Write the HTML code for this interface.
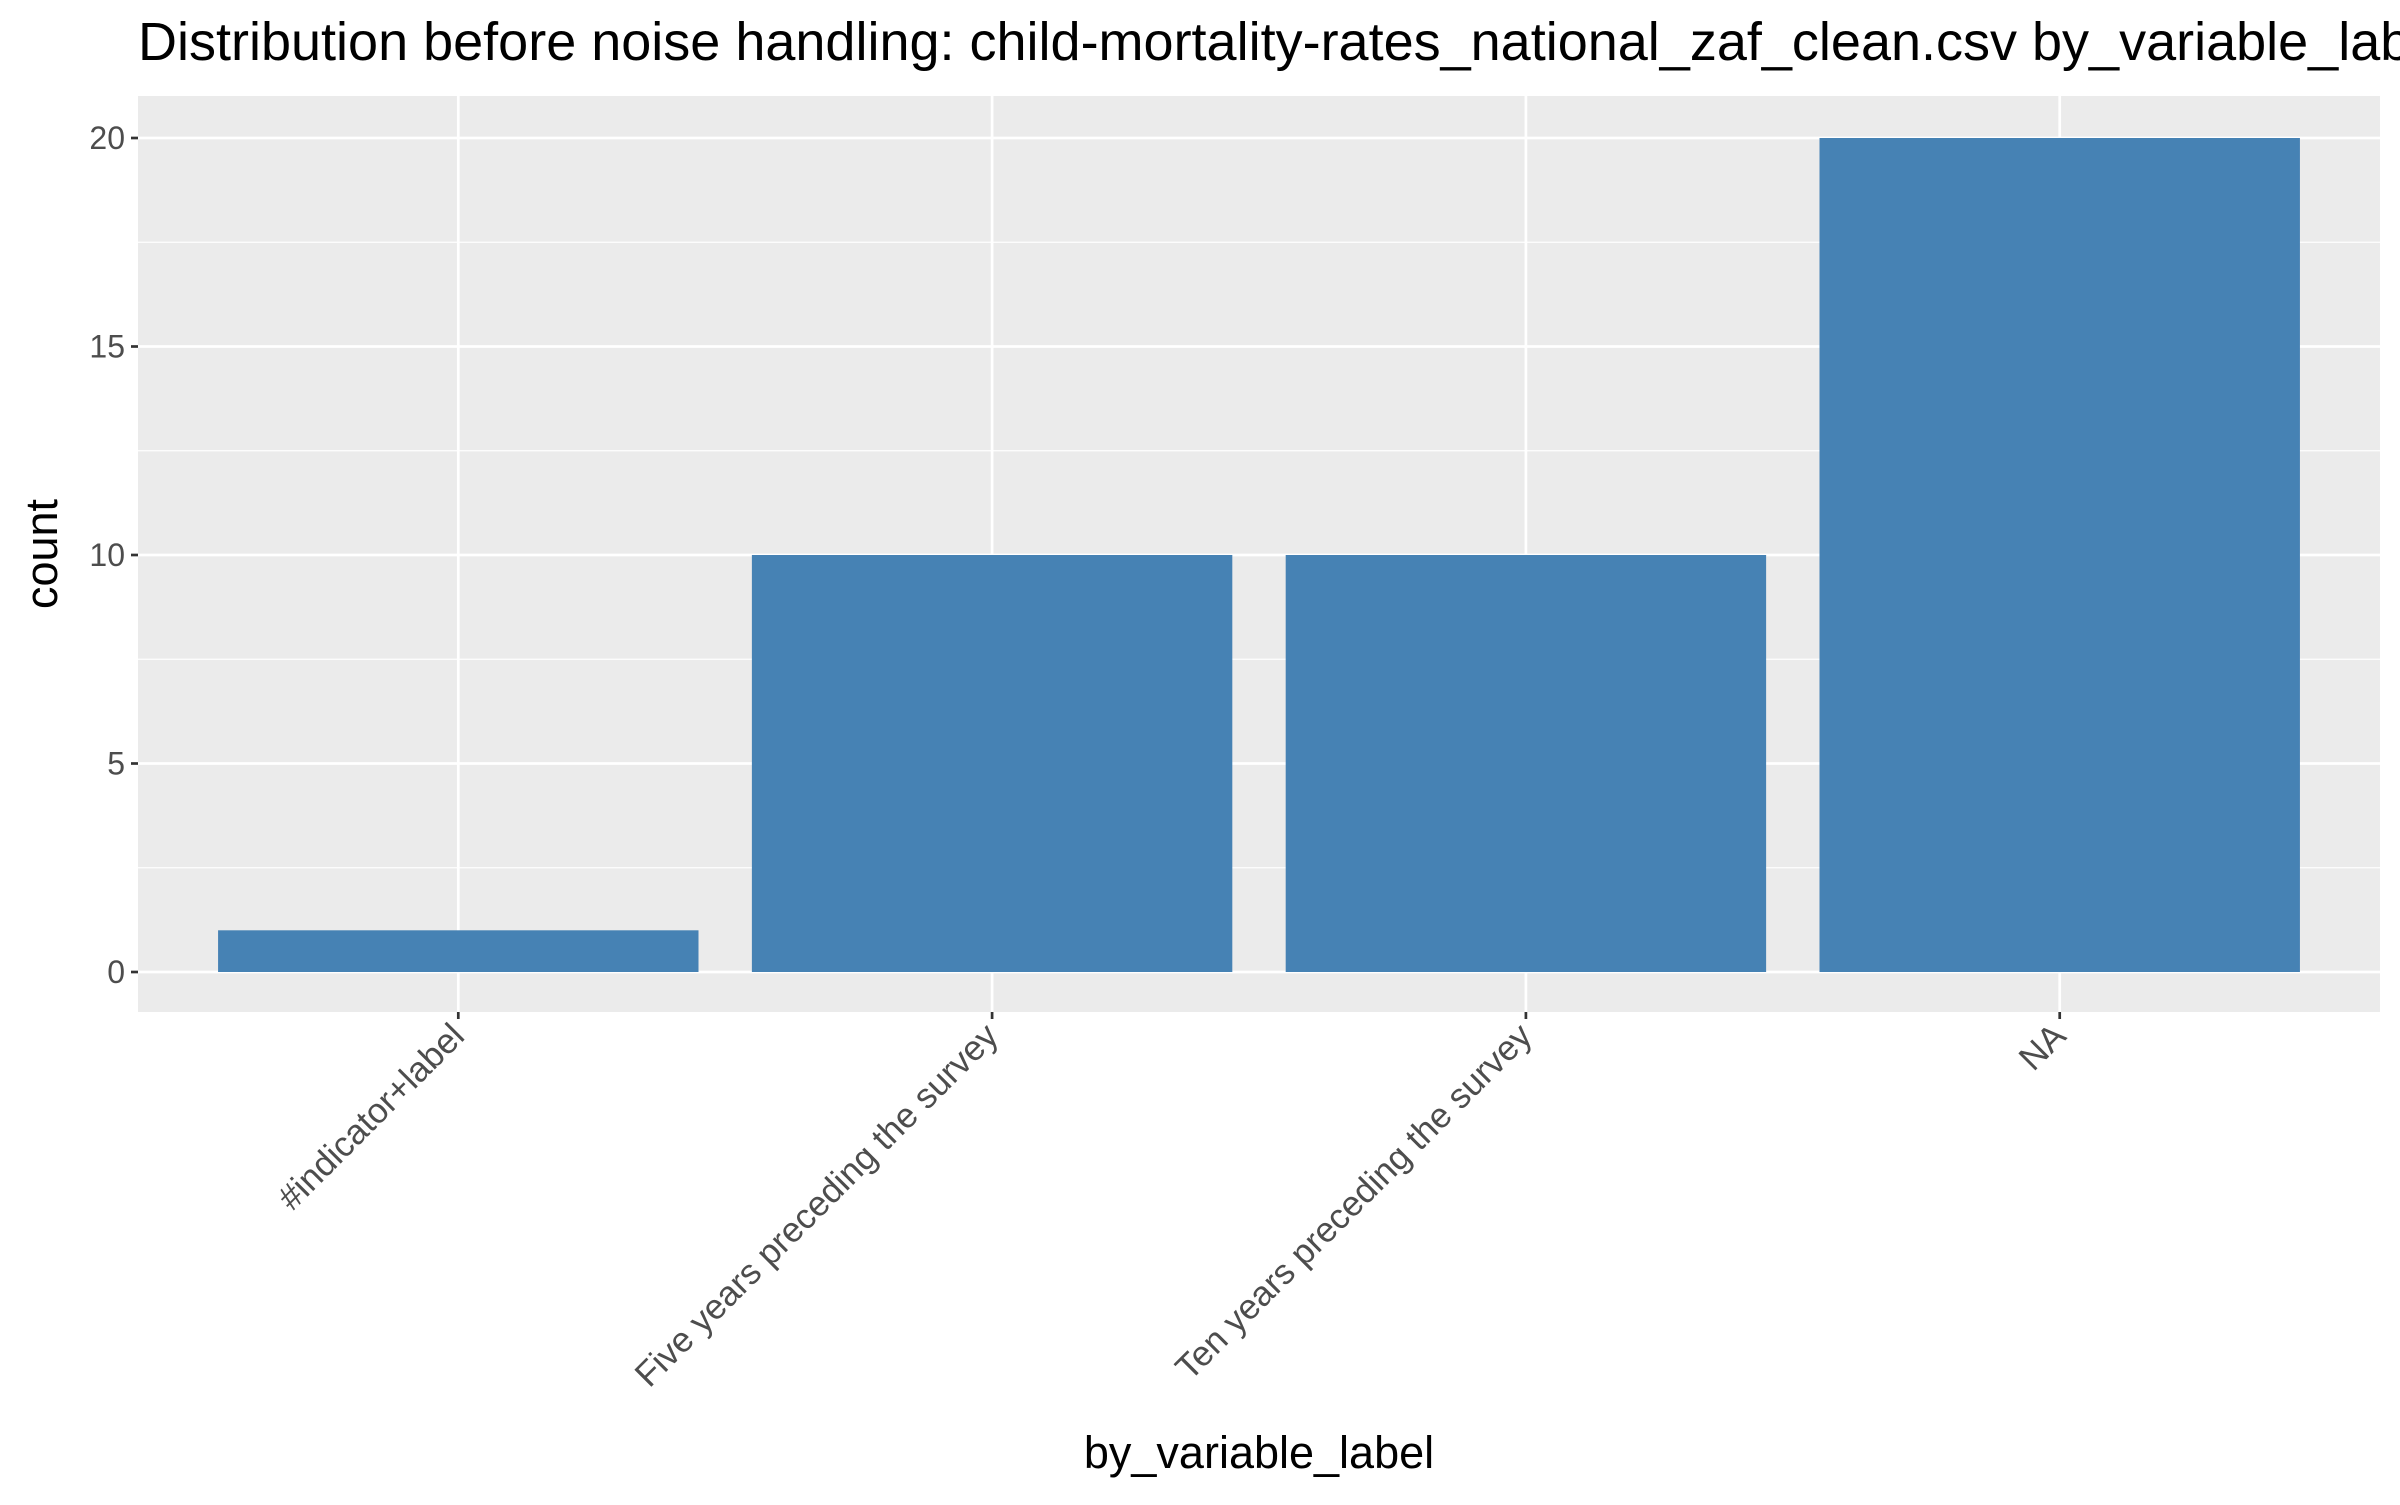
<!DOCTYPE html>
<html><head><meta charset="utf-8"><style>body{margin:0;background:#fff}svg text{font-family:"Liberation Sans",Arial,sans-serif}</style></head>
<body>
<svg id="chart" width="2400" height="1500" xmlns="http://www.w3.org/2000/svg">
<text x="138" y="60" font-size="54" fill="#000">Distribution before noise handling: child-mortality-rates_national_zaf_clean.csv by_variable_label</text>
<rect x="138" y="96" width="2242" height="916" fill="#ebebeb"/>
<g id="grid"></g><g id="bars"></g><g id="axes"></g>
<text x="1259" y="1468" font-size="45" text-anchor="middle">by_variable_label</text>
<text transform="translate(57,554) rotate(-90)" font-size="45" text-anchor="middle">count</text>
</svg>
<script>
const categories=["#indicator+label","Five years preceding the survey","Ten years preceding the survey","NA"];
const counts=[1,10,10,20];
const yTicks=[0,5,10,15,20];
const ns="http://www.w3.org/2000/svg";
const L=138,R=2380,T=96,B=1012;
const y=v=>972-v*(972-138)/20;
const step=(R-L)/4.2; const x=i=>L+step*(0.6+i);
const bw=step*0.9;
function mk(t,a,p){const e=document.createElementNS(ns,t);for(const k in a)e.setAttribute(k,a[k]);p.appendChild(e);return e;}
const g=document.getElementById('grid'),b=document.getElementById('bars'),ax=document.getElementById('axes');
for(let v=2.5;v<=22;v+=5){if(y(v)<T)continue;const l=mk('line',{x1:L,x2:R,y1:y(v),y2:y(v),stroke:'#fff','stroke-width':1.3},g);}
yTicks.forEach(v=>{const l=mk('line',{x1:L,x2:R,y1:y(v),y2:y(v),stroke:'#fff','stroke-width':2.7},g);
const t=mk('line',{x1:L-7,x2:L,y1:y(v),y2:y(v),stroke:'#333','stroke-width':2.7},ax);
const tx=mk('text',{x:L-13,y:y(v)+11,'font-size':32,'text-anchor':'end',fill:'#4d4d4d'},ax);tx.textContent=v;});
categories.forEach((c,i)=>{const cx=x(i);
const l=mk('line',{x1:cx,x2:cx,y1:T,y2:B,stroke:'#fff','stroke-width':2.7},g);
const r=mk('rect',{x:cx-bw/2,y:y(counts[i]),width:bw,height:y(0)-y(counts[i]),fill:'#4682b4'},b);
const t=mk('line',{x1:cx,x2:cx,y1:B,y2:B+7,stroke:'#333','stroke-width':2.7},ax);
const tx=mk('text',{transform:`translate(${cx+8},${B+26}) rotate(-45)`,'font-size':35,'text-anchor':'end',fill:'#4d4d4d'},ax);tx.textContent=c;});
</script>
</body></html>
